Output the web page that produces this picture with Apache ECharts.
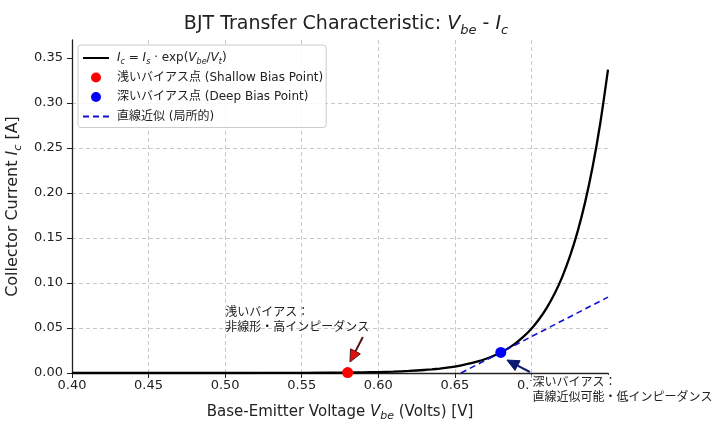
<!DOCTYPE html>
<html><head><meta charset="utf-8">
<script src="https://cdn.jsdelivr.net/npm/echarts@6/dist/echarts.min.js"></script>
<style>html,body{margin:0;padding:0;background:#fff}#c{width:720px;height:427px}</style>
</head><body><div id="c"></div>
<script>
// ---- data ----
const vbe = [0.40,0.45,0.50,0.55,0.58,0.59,0.60,0.61,0.62,0.63,0.635,0.64,0.645,0.65,0.655,0.66,0.665,0.67,0.675,0.68,0.685,0.69,0.695,0.70,0.705,0.71,0.715,0.72,0.725,0.73,0.735,0.74,0.745,0.75];
const ic = [0.0000005,0.0000033,0.0000225,0.000154,0.000488,0.000716,0.00105,0.00155,0.00227,0.00334,0.00404,0.0049,0.00594,0.0072,0.00873,0.01058,0.01282,0.01554,0.01883,0.02283,0.02766,0.03352,0.04064,0.04925,0.05971,0.07237,0.08772,0.1063,0.1289,0.1562,0.1893,0.2294,0.2781,0.3370];
const shallowPoint = [0.58, 0.0005];
const deepPoint = [0.68, 0.0228];
const tangentX = [0.654, 0.75];
const tangentY = [0.0, 0.0843];
const xTicks = [0.40,0.45,0.50,0.55,0.60,0.65,0.70,0.75];
const yTicks = [0.00,0.05,0.10,0.15,0.20,0.25,0.30,0.35];
const seriesNames = ['Ic = Is · exp(Vbe/Vt)','浅いバイアス点 (Shallow Bias Point)','深いバイアス点 (Deep Bias Point)','直線近似 (局所的)'];
const shallowText = '浅いバイアス：\n非線形・高インピーダンス';
const deepText = '深いバイアス：\n直線近似可能・低インピーダンス';
// annotation anchors in data coordinates
const shallowTextAt = [0.50, 0.0755];
const shallowArrow = [[0.5899, 0.040],[0.5815, 0.0122]];
const deepTextAt = [0.70, -0.0020];
const deepArrow = [[0.6990, 0.0011],[0.6840, 0.0144]];

const FONT = '"DejaVu Sans", "Noto Sans CJK JP", sans-serif';
const chart = echarts.init(document.getElementById('c'), null, {renderer:'canvas'});

const richBase = (fs, lh) => ({
  n:{fontSize:fs, fontFamily:FONT, fontWeight:'normal', color:'#222', lineHeight:lh},
  i:{fontSize:fs, fontFamily:FONT, fontWeight:'normal', fontStyle:'italic', color:'#222', lineHeight:lh},
  s:{fontSize:Math.round(fs*0.7), fontFamily:FONT, fontWeight:'normal', fontStyle:'italic', color:'#222', lineHeight:Math.round(fs*0.7), verticalAlign:'bottom'}
});

const curveData = vbe.map((v,k)=>[v, ic[k]]);
const tangentData = tangentX.map((v,k)=>[v, tangentY[k]]);

chart.setOption({
  animation:false,
  backgroundColor:'#fff',
  title:{
    text:'{n|BJT Transfer Characteristic: }{i|V}{s|be}{n| - }{i|I}{s|c}',
    left:341, top:7, textAlign:'center',
    textStyle:{fontWeight:'normal', rich:richBase(19, 25)}
  },
  grid:{left:72, right:112, top:40, bottom:54, outerBoundsMode:'none', containLabel:false},
  legend:{
    orient:'vertical', left:78, top:45,
    data:[
      {name:seriesNames[0], itemStyle:{opacity:0}},
      {name:seriesNames[1]},
      {name:seriesNames[2]},
      {name:seriesNames[3], itemStyle:{opacity:0}}
    ],
    itemWidth:26, itemHeight:10, itemGap:3.5,
    padding:[5,3,3,4],
    borderColor:'#cccccc', borderWidth:1, borderRadius:3,
    backgroundColor:'rgba(255,255,255,0.85)',
    textStyle:{fontSize:12, fontFamily:FONT, color:'#222', padding:[0,0,0,3], lineHeight:16, rich:richBase(12,16)},
    formatter:function(name){
      if(name===seriesNames[0]) return '{i|I}{s|c}{n| = }{i|I}{s|s}{n| · exp(}{i|V}{s|be}{n|/}{i|V}{s|t}{n|)}';
      return '{n|'+name+'}';
    }
  },
  xAxis:{
    type:'value', min:0.40, max:0.75, interval:0.05,
    name:'{n|Base-Emitter Voltage }{i|V}{s|be}{n| (Volts) [V]}',
    nameLocation:'middle', nameGap:29,
    nameTextStyle:{rich:richBase(15, 20)},
    axisLine:{show:true, onZero:false, lineStyle:{color:'#222', width:1.3}},
    axisTick:{show:true, inside:false, length:5, lineStyle:{color:'#222'}},
    axisLabel:{fontSize:13, fontFamily:FONT, color:'#222', margin:6, formatter:v=>v.toFixed(2), customValues:xTicks},
    splitLine:{show:true, showMinLine:false, showMaxLine:false, lineStyle:{color:'#c8c8c8', type:[4,3], width:1}}
  },
  yAxis:{
    type:'value', min:0, max:0.37, interval:0.05,
    name:'{n|Collector Current }{i|I}{s|c}{n| [A]}',
    nameLocation:'middle', nameGap:44, nameRotate:90,
    nameTextStyle:{rich:richBase(16, 20)},
    axisLine:{show:true, onZero:false, lineStyle:{color:'#222', width:1.3}},
    axisTick:{show:true, inside:false, length:5, lineStyle:{color:'#222'}, customValues:yTicks},
    axisLabel:{fontSize:13, fontFamily:FONT, color:'#222', margin:9, formatter:v=>v.toFixed(2), customValues:yTicks},
    splitLine:{show:true, showMinLine:false, showMaxLine:false, lineStyle:{color:'#c8c8c8', type:[4,3], width:1}}
  },
  series:[
    {name:seriesNames[0], type:'line', data:curveData, showSymbol:false, symbol:'none', smooth:0.3,
     lineStyle:{color:'#000', width:2.3}, itemStyle:{color:'#000'}, z:3},
    {name:seriesNames[1], type:'scatter', data:[shallowPoint], symbol:'circle', symbolSize:11,
     itemStyle:{color:'#ff0000', opacity:1}, z:6},
    {name:seriesNames[2], type:'scatter', data:[deepPoint], symbol:'circle', symbolSize:11,
     itemStyle:{color:'#0000ff', opacity:1}, z:6},
    {name:seriesNames[3], type:'line', data:tangentData, showSymbol:false, symbol:'none',
     lineStyle:{color:'#1010cc', width:1.6, type:[6,4]}, itemStyle:{color:'#1010cc'}, z:4}
  ]
});

function px(p){ return chart.convertToPixel({gridIndex:0}, p); }
function arrow(a, stroke, fill){
  const p0 = px(a[0]), p1 = px(a[1]);
  const dx = p1[0]-p0[0], dy = p1[1]-p0[1];
  const L = Math.sqrt(dx*dx+dy*dy), ux = dx/L, uy = dy/L;
  const hl = 12, hw = 5.5;
  const bx = p1[0]-ux*hl, by = p1[1]-uy*hl;
  return [
    {type:'line', z:50, shape:{x1:p0[0], y1:p0[1], x2:bx, y2:by}, style:{stroke:stroke, lineWidth:2}},
    {type:'polygon', z:50, shape:{points:[[p1[0],p1[1]],[bx-uy*hw, by+ux*hw],[bx+uy*hw, by-ux*hw]]},
     style:{fill:fill, stroke:stroke, lineWidth:1}}
  ];
}
const st = px(shallowTextAt), dt = px(deepTextAt);
chart.setOption({
  graphic:[
    {type:'text', z:60, x:st[0], y:st[1], style:{text:shallowText, font:'12px '+FONT, fill:'#222', lineHeight:15, align:'left', verticalAlign:'top'}},
    {type:'text', z:60, x:dt[0], y:dt[1], style:{text:deepText, font:'12px '+FONT, fill:'#222', lineHeight:15, align:'left', verticalAlign:'top', backgroundColor:'#fff', padding:[1,2,1,1]}},
  ].concat(arrow(shallowArrow, '#5a1010', '#e01010')).concat(arrow(deepArrow, '#0a1a6e', '#0a1a6e'))
});
</script></body></html>
